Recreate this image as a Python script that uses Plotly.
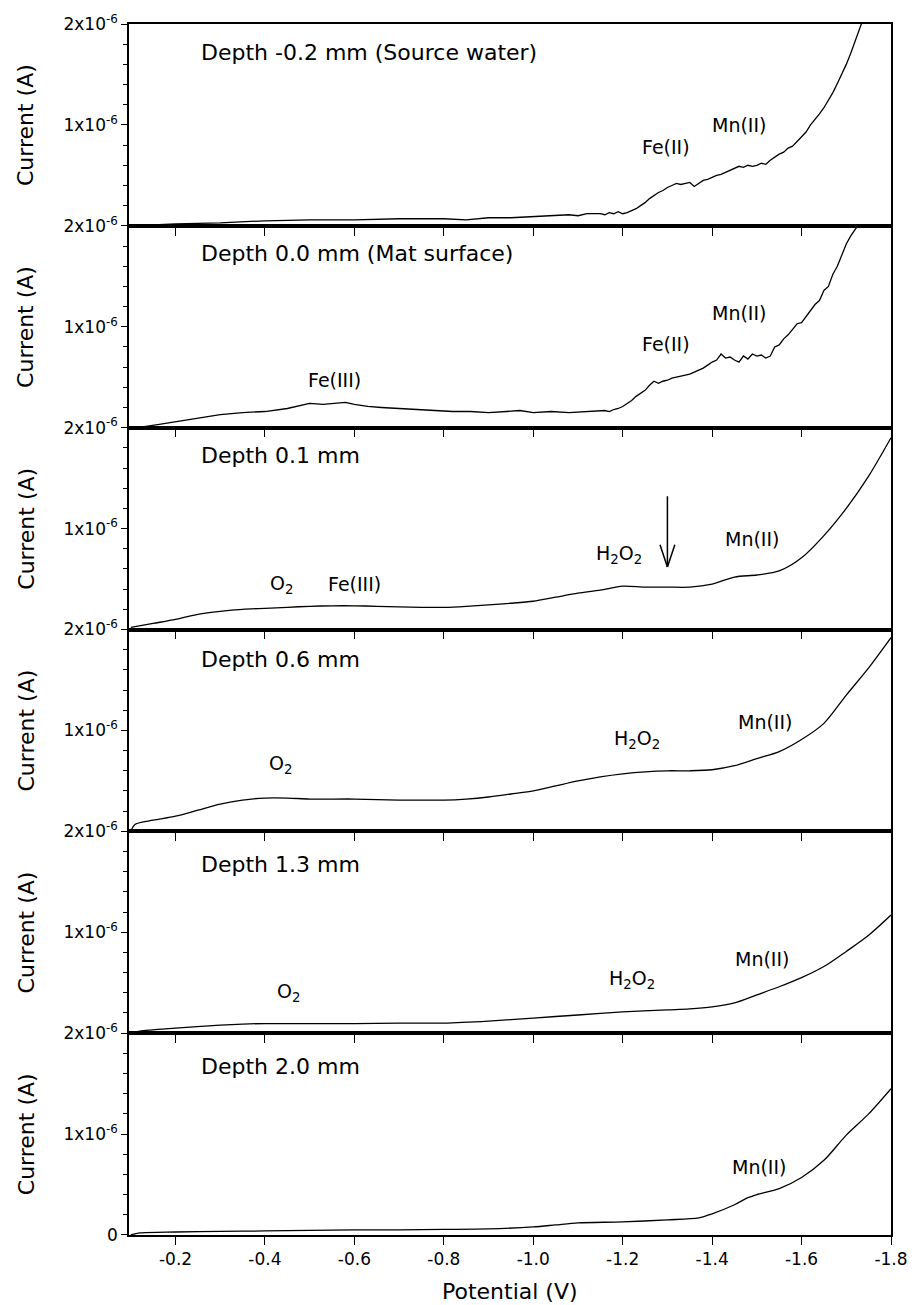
import plotly.graph_objects as go
from plotly.subplots import make_subplots

# ---------------- data (current in units of 1e-6 A) ----------------
v1 = [-0.10, -0.15, -0.20, -0.30, -0.40, -0.50, -0.60, -0.70, -0.80, -0.85, -0.90, -0.95, -1.00,
      -1.05, -1.08, -1.10, -1.12,
      -1.15, -1.16, -1.17, -1.18, -1.19, -1.20, -1.21, -1.22, -1.23, -1.24, -1.25, -1.26, -1.27,
      -1.28, -1.29, -1.30, -1.31, -1.32, -1.33, -1.34, -1.35, -1.36, -1.37, -1.38, -1.39, -1.40,
      -1.41, -1.42, -1.43, -1.44, -1.45, -1.46, -1.47, -1.48, -1.49, -1.50, -1.51, -1.52, -1.53,
      -1.54, -1.55, -1.56, -1.57, -1.58, -1.59, -1.60, -1.61, -1.62, -1.63, -1.64, -1.65, -1.66,
      -1.67, -1.68, -1.69, -1.70, -1.71, -1.72, -1.73, -1.74, -1.75]
i1 = [0.00, 0.01, 0.02, 0.03, 0.05, 0.06, 0.06, 0.07, 0.07, 0.06, 0.08, 0.08, 0.09,
      0.10, 0.11, 0.10, 0.12,
      0.12, 0.11, 0.13, 0.12, 0.14, 0.12, 0.13, 0.15, 0.17, 0.20, 0.23, 0.27, 0.30,
      0.33, 0.35, 0.38, 0.40, 0.42, 0.41, 0.42, 0.43, 0.39, 0.42, 0.45, 0.46, 0.48,
      0.50, 0.51, 0.53, 0.55, 0.57, 0.59, 0.58, 0.60, 0.59, 0.60, 0.62, 0.61, 0.65,
      0.68, 0.71, 0.73, 0.77, 0.79, 0.84, 0.88, 0.93, 1.00, 1.05, 1.11, 1.17, 1.24,
      1.32, 1.41, 1.50, 1.60, 1.71, 1.83, 1.95, 2.07, 2.20]

v2 = [-0.10, -0.13, -0.16, -0.20, -0.25, -0.30, -0.35, -0.40, -0.45, -0.48, -0.50, -0.53, -0.56,
      -0.58, -0.60, -0.63, -0.66, -0.70, -0.74, -0.78, -0.82, -0.86, -0.90, -0.94, -0.97, -1.00,
      -1.04, -1.08, -1.12,
      -1.16, -1.17, -1.18, -1.19, -1.20, -1.21, -1.22, -1.23, -1.24, -1.25, -1.26, -1.27, -1.28,
      -1.29, -1.30, -1.31, -1.32, -1.33, -1.34, -1.35, -1.36, -1.37, -1.38, -1.39, -1.40, -1.41,
      -1.42, -1.43, -1.44, -1.45, -1.46, -1.47, -1.48, -1.49, -1.50, -1.51, -1.52, -1.53, -1.54,
      -1.55, -1.56, -1.57, -1.58, -1.59, -1.60, -1.61, -1.62, -1.63, -1.64, -1.65, -1.66, -1.67,
      -1.68, -1.69, -1.70, -1.71, -1.72, -1.73, -1.75]
i2 = [0.00, 0.01, 0.03, 0.06, 0.10, 0.13, 0.15, 0.16, 0.19, 0.22, 0.24, 0.23, 0.24,
      0.25, 0.23, 0.21, 0.20, 0.19, 0.18, 0.17, 0.16, 0.16, 0.15, 0.16, 0.17, 0.15,
      0.16, 0.15, 0.16,
      0.17, 0.16, 0.18, 0.19, 0.21, 0.24, 0.27, 0.31, 0.34, 0.37, 0.42, 0.46, 0.44,
      0.46, 0.47, 0.49, 0.50, 0.51, 0.52, 0.53, 0.55, 0.57, 0.59, 0.62, 0.65, 0.67,
      0.73, 0.69, 0.70, 0.67, 0.65, 0.71, 0.68, 0.73, 0.71, 0.72, 0.69, 0.71, 0.80,
      0.82, 0.88, 0.92, 0.97, 1.03, 1.04, 1.10, 1.15, 1.22, 1.26, 1.36, 1.40, 1.52,
      1.60, 1.72, 1.82, 1.90, 1.96, 2.03, 2.20]

v3 = [-0.10, -0.15, -0.20, -0.25, -0.30, -0.35, -0.40, -0.45, -0.50, -0.55, -0.60, -0.65, -0.70,
      -0.75, -0.80, -0.85, -0.90, -0.95, -1.00, -1.05, -1.10, -1.15, -1.20, -1.25, -1.30, -1.35,
      -1.40, -1.45, -1.50, -1.55, -1.60, -1.65, -1.70, -1.75, -1.80]
i3 = [0.02, 0.06, 0.10, 0.15, 0.18, 0.20, 0.21, 0.22, 0.23, 0.235, 0.235, 0.23, 0.225,
      0.22, 0.22, 0.23, 0.245, 0.26, 0.28, 0.32, 0.36, 0.39, 0.43, 0.42, 0.42, 0.42,
      0.45, 0.52, 0.54, 0.58, 0.71, 0.93, 1.20, 1.52, 1.90]

v4 = [-0.10, -0.11, -0.15, -0.20, -0.25, -0.30, -0.35, -0.40, -0.45, -0.50, -0.60, -0.70, -0.80,
      -0.85, -0.90, -0.95, -1.00, -1.05, -1.10, -1.15, -1.20, -1.25, -1.30, -1.35, -1.40, -1.45,
      -1.50, -1.55, -1.60, -1.65, -1.70, -1.75, -1.80]
i4 = [0.00, 0.07, 0.11, 0.15, 0.21, 0.27, 0.31, 0.33, 0.33, 0.32, 0.32, 0.31, 0.31,
      0.32, 0.34, 0.37, 0.40, 0.45, 0.50, 0.54, 0.57, 0.59, 0.60, 0.60, 0.61, 0.65,
      0.72, 0.79, 0.91, 1.07, 1.35, 1.62, 1.92]

v5 = [-0.10, -0.12, -0.20, -0.30, -0.35, -0.40, -0.50, -0.60, -0.70, -0.80, -0.90, -1.00, -1.10,
      -1.20, -1.30, -1.35, -1.40, -1.45, -1.50, -1.55, -1.60, -1.65, -1.70, -1.75, -1.80]
i5 = [0.00, 0.02, 0.05, 0.08, 0.09, 0.095, 0.095, 0.095, 0.10, 0.10, 0.12, 0.15, 0.18,
      0.21, 0.23, 0.24, 0.26, 0.30, 0.38, 0.46, 0.55, 0.66, 0.81, 0.97, 1.17]

v6 = [-0.10, -0.12, -0.20, -0.30, -0.40, -0.50, -0.60, -0.70, -0.80, -0.90, -1.00, -1.05, -1.10,
      -1.20, -1.30, -1.37, -1.40, -1.45, -1.48, -1.50, -1.55, -1.60, -1.65, -1.70, -1.75, -1.80]
i6 = [0.00, 0.02, 0.03, 0.035, 0.04, 0.045, 0.05, 0.05, 0.055, 0.06, 0.08, 0.10, 0.12,
      0.13, 0.15, 0.17, 0.21, 0.30, 0.37, 0.40, 0.46, 0.57, 0.74, 0.99, 1.20, 1.45]

potentials = [v1, v2, v3, v4, v5, v6]
currents = [i1, i2, i3, i4, i5, i6]
line_shapes = ["linear", "linear", "spline", "spline", "spline", "spline"]

panel_titles = ["Depth -0.2 mm (Source water)", "Depth 0.0 mm (Mat surface)", "Depth 0.1 mm",
                "Depth 0.6 mm", "Depth 1.3 mm", "Depth 2.0 mm"]
title_y = [1.72, 1.73, 1.72, 1.70, 1.67, 1.67]

# peak labels: (panel, text, potential, current)
peak_labels = [
    (1, "Fe(II)", -1.297, 0.78), (1, "Mn(II)", -1.460, 1.00),
    (2, "Fe(III)", -0.555, 0.47), (2, "Fe(II)", -1.297, 0.83), (2, "Mn(II)", -1.460, 1.14),
    (3, "O<sub>2</sub>", -0.436, 0.45), (3, "Fe(III)", -0.600, 0.45),
    (3, "H<sub>2</sub>O<sub>2</sub>", -1.191, 0.74), (3, "Mn(II)", -1.489, 0.90),
    (4, "O<sub>2</sub>", -0.434, 0.66), (4, "H<sub>2</sub>O<sub>2</sub>", -1.231, 0.91),
    (4, "Mn(II)", -1.518, 1.08),
    (5, "O<sub>2</sub>", -0.452, 0.40), (5, "H<sub>2</sub>O<sub>2</sub>", -1.220, 0.53),
    (5, "Mn(II)", -1.511, 0.73),
    (6, "Mn(II)", -1.504, 0.67),
]

# arrow in panel 3
arrow_v = -1.30
arrow_top = 1.32
arrow_tip = 0.62

x_tickvals = [-0.2, -0.4, -0.6, -0.8, -1.0, -1.2, -1.4, -1.6, -1.8]
x_ticktext = ["-0.2", "-0.4", "-0.6", "-0.8", "-1.0", "-1.2", "-1.4", "-1.6", "-1.8"]
x_range = [-0.096, -1.80]
y_range = [0, 2.0]

FONT = "DejaVu Sans"

fig = make_subplots(rows=6, cols=1, shared_xaxes=True, vertical_spacing=0)

for k in range(6):
    fig.add_trace(go.Scatter(x=potentials[k], y=currents[k], mode="lines",
                             line=dict(color="black", width=1.3, shape=line_shapes[k], smoothing=0.8),
                             showlegend=False),
                  row=k + 1, col=1)
    ytext = ["0" if k == 5 else "", "1x10<sup>-6</sup>", "2x10<sup>-6</sup>"]
    fig.update_yaxes(row=k + 1, col=1, range=y_range, tickvals=[0, 1, 2], ticktext=ytext,
                     ticks="outside", ticklen=6, tickwidth=1.2, tickcolor="black",
                     minor=dict(dtick=0.2, ticks="outside", ticklen=4, tickcolor="black", tickwidth=1),
                     showline=True, linecolor="black", linewidth=1.5, mirror=True,
                     showgrid=False, zeroline=False,
                     tickfont=dict(family=FONT, size=17, color="black"))
    fig.update_xaxes(row=k + 1, col=1, range=x_range, tickvals=x_tickvals, ticktext=x_ticktext,
                     ticks="outside", ticklen=8, tickwidth=1.2, tickcolor="black",
                     showline=True, linecolor="black", linewidth=1.5, mirror=True,
                     showgrid=False, zeroline=False,
                     tickfont=dict(family=FONT, size=17, color="black"))
    xr = "x" if k == 0 else f"x{k + 1}"
    yr = "y" if k == 0 else f"y{k + 1}"
    fig.add_annotation(x=-0.253, y=title_y[k], xref=xr, yref=yr, text=panel_titles[k],
                       showarrow=False, xanchor="left", yanchor="middle",
                       font=dict(family=FONT, size=22, color="black"))
    fig.add_annotation(x=-0.135, y=1.0, xref="paper", yref=yr, text="Current (A)",
                       showarrow=False, textangle=-90, xanchor="center", yanchor="middle",
                       font=dict(family=FONT, size=22, color="black"))

for panel, txt, v, i in peak_labels:
    xr = "x" if panel == 1 else f"x{panel}"
    yr = "y" if panel == 1 else f"y{panel}"
    fig.add_annotation(x=v, y=i, xref=xr, yref=yr, text=txt, showarrow=False,
                       xanchor="center", yanchor="middle",
                       font=dict(family=FONT, size=19, color="black"))

# arrow (panel 3)
head_dv = 0.0166
head_di = 0.22
fig.add_shape(type="line", xref="x3", yref="y3", x0=arrow_v, x1=arrow_v, y0=arrow_top, y1=arrow_tip,
              line=dict(color="black", width=1.5))
fig.add_shape(type="line", xref="x3", yref="y3", x0=arrow_v - head_dv, x1=arrow_v,
              y0=arrow_tip + head_di, y1=arrow_tip, line=dict(color="black", width=1.5))
fig.add_shape(type="line", xref="x3", yref="y3", x0=arrow_v + head_dv, x1=arrow_v,
              y0=arrow_tip + head_di, y1=arrow_tip, line=dict(color="black", width=1.5))

fig.add_annotation(x=0.5, y=-0.047, xref="paper", yref="paper", text="Potential (V)",
                   showarrow=False, xanchor="center", yanchor="middle",
                   font=dict(family=FONT, size=22, color="black"))

fig.update_layout(width=920, height=1305, margin=dict(l=129, r=20, t=22, b=70),
                  plot_bgcolor="white", paper_bgcolor="white",
                  font=dict(family=FONT, color="black"))

fig.write_html("out.html")
